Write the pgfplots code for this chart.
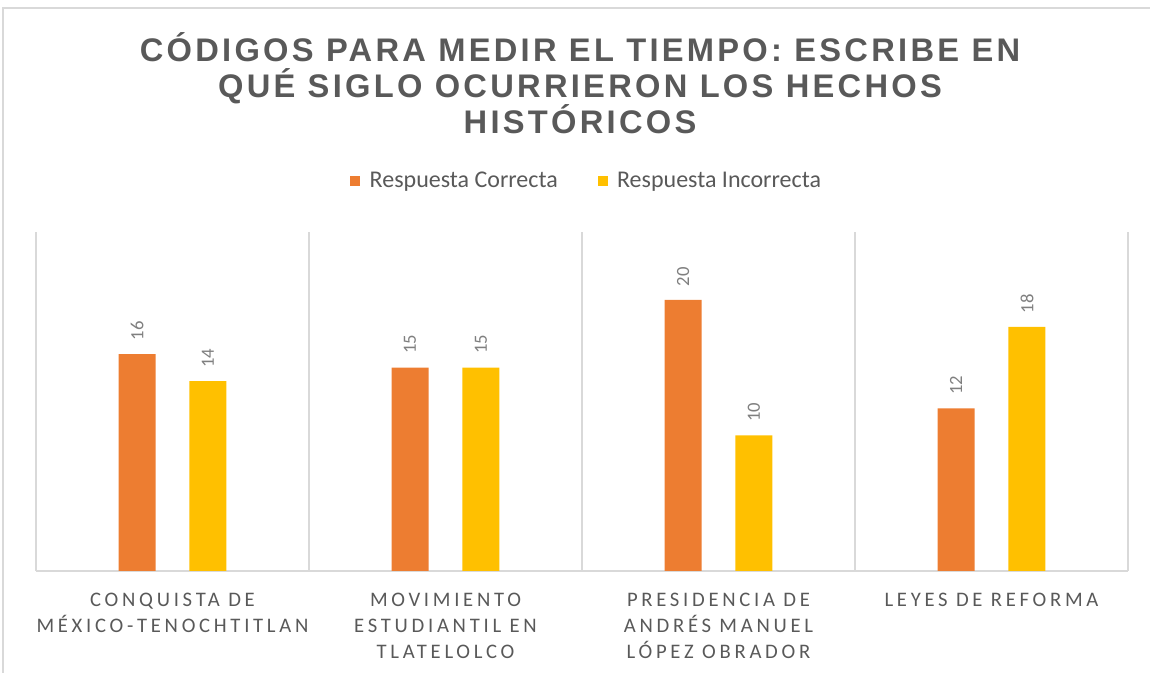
\documentclass[border=0pt]{standalone}
\usepackage{fontspec}
\usepackage{pgfplots}
\pgfplotsset{compat=1.18}
\setmainfont{Carlito}
\newfontfamily\titlefont[LetterSpace=10]{Liberation Sans}
\newfontfamily\catfont[LetterSpace=18]{Carlito}
\definecolor{barorange}{HTML}{ED7D31}
\definecolor{bargold}{HTML}{FFC000}
\definecolor{txtgray}{HTML}{595959}
\definecolor{lblgray}{HTML}{7F7F7F}
\definecolor{sepgray}{HTML}{D9D9D9}

\begin{document}
\begin{tikzpicture}[x=0.75pt,y=0.75pt]
\useasboundingbox (0,0) rectangle (1150,673);
% chart frame
\draw[sepgray, line width=1pt] (3,0) -- (3,665) -- (1150,665);

\node[align=center, text=txtgray, font=\titlefont\bfseries\fontsize{24.5}{27}\selectfont]
  at (580,590) {CÓDIGOS PARA MEDIR EL TIEMPO: ESCRIBE EN\\QUÉ SIGLO OCURRIERON LOS HECHOS\\HISTÓRICOS};

\begin{axis}[
    at={(27pt,76.5pt)}, anchor=south west,
    scale only axis,
    width=819pt, height=254.25pt,
    xmin=-0.5, xmax=3.5,
    ymin=0, ymax=25,
    axis y line=none,
    axis x line*=bottom,
    x axis line style={draw=sepgray, line width=1pt, -},
    xtick={0,1,2,3},
    xticklabels={{CONQUISTA DE\\MÉXICO-TENOCHTITLAN},
                 {MOVIMIENTO\\ESTUDIANTIL EN\\TLATELOLCO},
                 {PRESIDENCIA DE\\ANDRÉS MANUEL\\LÓPEZ OBRADOR},
                 {LEYES DE REFORMA}},
    x tick label style={align=center, text=txtgray, anchor=north, yshift=-13pt,
        font=\catfont\fontsize{15.5}{19.5}\selectfont},
    major tick length=0pt,
    minor xtick={-0.5,0.5,1.5,2.5,3.5},
    minor tick length=0pt,
    xminorgrids=true,
    minor grid style={draw=sepgray, line width=1pt},
    clip=false,
    ybar,
    bar width=27.75pt,
    nodes near coords={\pgfmathprintnumber[assume math mode=true]{\pgfplotspointmeta}},
    every node near coord/.append style={rotate=90, anchor=west, text=lblgray,
        font=\fontsize{14}{16}\selectfont, inner xsep=10pt, inner ysep=0pt},
    legend style={at={(0.5046,1.150)}, anchor=center, draw=none, fill=none,
        legend columns=2, font=\fontsize{18}{20}\selectfont,
        /tikz/every even column/.append style={column sep=28pt}},
    legend cell align=left,
    legend image code/.code={\fill[#1] (0pt,-3.75pt) rectangle (7.5pt,3.75pt);
        \path (12.5pt,0pt);},
]
\addplot[draw=none, fill=barorange, bar shift=-26.6pt] coordinates {(0,16) (1,15) (2,20) (3,12)};
\addlegendentry{\textcolor{txtgray}{Respuesta Correcta}}
\addplot[draw=none, fill=bargold, bar shift=26.6pt] coordinates {(0,14) (1,15) (2,10) (3,18)};
\addlegendentry{\textcolor{txtgray}{Respuesta Incorrecta}}
\end{axis}
\end{tikzpicture}
\end{document}
